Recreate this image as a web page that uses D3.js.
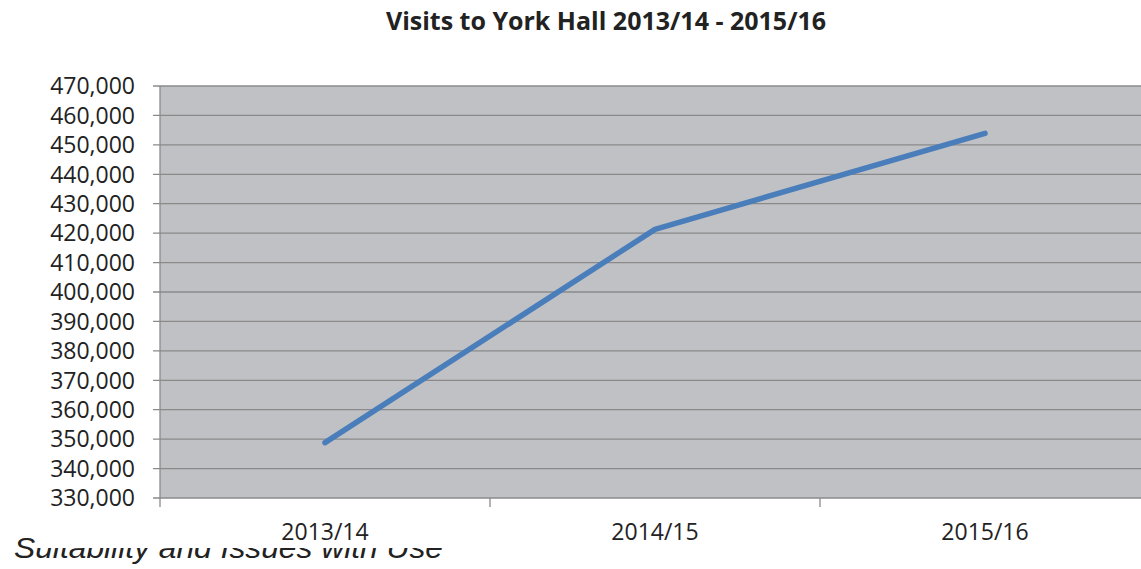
<!DOCTYPE html>
<html>
<head>
<meta charset="utf-8">
<script src="https://cdn.jsdelivr.net/npm/d3@7"></script>
<style>
  body { margin: 0; background: #fff; }
  svg { display: block; }
</style>
</head>
<body>
<div id="chart"></div>
<script>
// data
var seasons = ["2013/14", "2014/15", "2015/16"];
var visits = [348800, 421300, 453900];
var yTicks = [330000, 340000, 350000, 360000, 370000, 380000, 390000,
              400000, 410000, 420000, 430000, 440000, 450000, 460000, 470000];
var chartTitle = "Visits to York Hall 2013/14 - 2015/16";
var footText = "Suitability and Issues with Use";

var W = 1141, H = 569;
var margin = {top: 86, left: 160, bottom: 71};
var plotH = H - margin.top - margin.bottom;

var svg = d3.select("#chart").append("svg")
    .attr("width", W)
    .attr("height", H);

// page text sitting underneath the chart image
svg.append("text")
    .attr("x", 14)
    .attr("y", 558)
    .attr("font-family", "Liberation Sans, Arial, sans-serif")
    .attr("font-style", "italic")
    .attr("font-size", 30)
    .attr("textLength", 429)
    .attr("lengthAdjust", "spacingAndGlyphs")
    .attr("fill", "#222")
    .text(footText);

// the chart picture covers the top of that line
svg.append("rect")
    .attr("x", 36).attr("y", 0)
    .attr("width", W - 36).attr("height", 548)
    .attr("fill", "#fff");

var x = d3.scaleBand()
    .domain(seasons)
    .range([margin.left, margin.left + 330 * seasons.length]);

var y = d3.scaleLinear()
    .domain([330000, 470000])
    .range([margin.top + plotH, margin.top]);

var fmt = d3.format(",");

// plot background
svg.append("rect")
    .attr("x", margin.left)
    .attr("y", y(470000))
    .attr("width", x.range()[1] - margin.left)
    .attr("height", y(330000) - y(470000))
    .attr("fill", "#c0c1c5");

// gridlines
svg.append("g").selectAll("line")
    .data(yTicks)
    .enter().append("line")
    .attr("x1", margin.left - 7)
    .attr("x2", x.range()[1])
    .attr("y1", function(d){ return y(d); })
    .attr("y2", function(d){ return y(d); })
    .attr("stroke", "#8a8a8a")
    .attr("stroke-width", 1.3);

// y axis line
svg.append("line")
    .attr("x1", margin.left).attr("x2", margin.left)
    .attr("y1", y(470000)).attr("y2", y(330000) + 9)
    .attr("stroke", "#8a8a8a")
    .attr("stroke-width", 1.3);

// x tick marks on band edges
svg.append("g").selectAll("line")
    .data(seasons.slice(1))
    .enter().append("line")
    .attr("x1", function(d){ return x(d); })
    .attr("x2", function(d){ return x(d); })
    .attr("y1", y(330000))
    .attr("y2", y(330000) + 9)
    .attr("stroke", "#8a8a8a")
    .attr("stroke-width", 1.3);

// y labels
svg.append("g").selectAll("text")
    .data(yTicks)
    .enter().append("text")
    .attr("x", 135)
    .attr("y", function(d){ return y(d); })
    .attr("dy", "0.36em")
    .attr("text-anchor", "end")
    .attr("font-family", "Open Sans, sans-serif")
    .attr("font-size", 23)
    .attr("fill", "#222")
    .text(function(d){ return fmt(d); });

// x labels
svg.append("g").selectAll("text")
    .data(seasons)
    .enter().append("text")
    .attr("x", function(d){ return x(d) + x.bandwidth() / 2; })
    .attr("y", 540)
    .attr("text-anchor", "middle")
    .attr("font-family", "Open Sans, sans-serif")
    .attr("font-size", 23)
    .attr("fill", "#222")
    .text(function(d){ return d; });

// the line
var line = d3.line()
    .x(function(d, i){ return x(seasons[i]) + x.bandwidth() / 2; })
    .y(function(d){ return y(d); });

svg.append("path")
    .datum(visits)
    .attr("d", line)
    .attr("fill", "none")
    .attr("stroke", "#4a7ebb")
    .attr("stroke-width", 5.5)
    .attr("stroke-linecap", "round")
    .attr("stroke-linejoin", "round");

// title
svg.append("text")
    .attr("x", 606)
    .attr("y", 30)
    .attr("text-anchor", "middle")
    .attr("font-family", "Open Sans, sans-serif")
    .attr("font-weight", "bold")
    .attr("font-size", 25)
    .attr("fill", "#222")
    .text(chartTitle);
</script>
</body>
</html>
